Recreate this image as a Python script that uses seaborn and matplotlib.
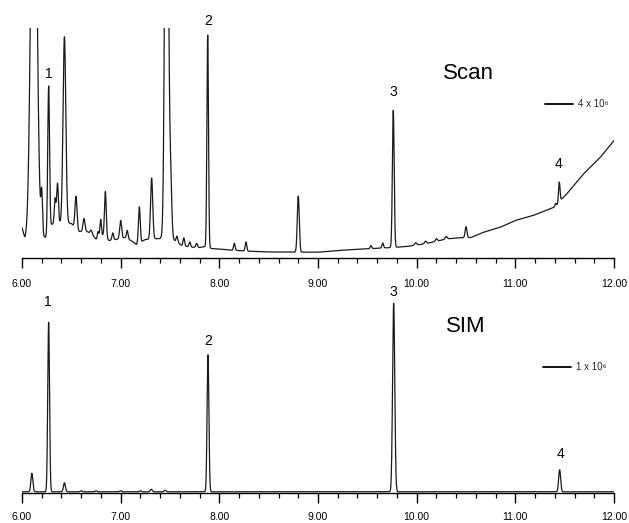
import numpy as np
import pandas as pd
import matplotlib
matplotlib.use("Agg")
import matplotlib.pyplot as plt
import seaborn as sns
from matplotlib.ticker import MultipleLocator, FormatStrFormatter
from matplotlib.lines import Line2D

# ---------------- data ----------------
# Scan trace: baseline points (time, abundance) and peaks (time, height above baseline, width)
scan_base_t = [6.00, 6.03, 6.08, 6.17, 6.24, 6.30, 6.40, 6.50, 6.58, 6.66, 6.72, 6.76,
               6.82, 6.88, 6.95, 7.05, 7.12, 7.16, 7.25, 7.40, 7.50, 7.56, 7.62, 7.70,
               7.80, 7.86, 7.92, 8.00, 8.10, 8.30, 8.50, 9.00, 9.20, 9.50, 9.75, 9.90,
               10.10, 10.30, 10.42, 10.55, 10.67, 10.84, 11.00, 11.18, 11.35, 11.43,
               11.47, 11.52, 11.69, 11.86, 12.00]
scan_base_h = [30, 18, 20, 22, 20, 33, 35, 34, 26, 26, 22, 17,
               22, 17, 18, 20, 16, 13, 18, 19, 20, 16, 12, 10.5,
               10, 11, 9, 8.5, 7.5, 6.3, 5.5, 5.3, 7, 8.7, 10, 11,
               14, 18.5, 19.7, 20, 25, 30, 37, 42, 48.5, 52,
               58.5, 63.5, 83.5, 100, 117]
scan_peak_t = [6.12, 6.20, 6.27, 6.335, 6.36, 6.43, 6.547, 6.628, 6.70, 6.77, 6.797,
               6.845, 6.92, 7.00, 7.067, 7.189, 7.314, 7.465, 7.505, 7.57, 7.64, 7.70,
               7.77, 7.882, 8.152, 8.27, 8.80, 9.537, 9.656, 9.763, 9.99, 10.09, 10.20,
               10.30, 10.50, 11.41, 11.445]
scan_peak_h = [500, 40, 145, 25, 40, 186, 32, 13, 4, 8, 18,
               46, 7, 18, 8, 36, 61, 600, 60, 6, 8, 5,
               4, 212, 7, 9, 56, 3, 5, 137, 2.5, 2.5, 2.5,
               2.5, 11, 3, 21]
scan_peak_w = [0.028, 0.008, 0.009, 0.008, 0.009, 0.014, 0.010, 0.010, 0.010, 0.008, 0.008,
               0.009, 0.008, 0.010, 0.008, 0.009, 0.011, 0.016, 0.012, 0.008, 0.008, 0.008,
               0.008, 0.008, 0.008, 0.008, 0.010, 0.008, 0.008, 0.009, 0.010, 0.010, 0.010,
               0.010, 0.009, 0.008, 0.008]

# SIM trace
sim_base_t = [6.00, 12.00]
sim_base_h = [1.2, 1.2]
sim_peak_t = [6.10, 6.27, 6.43, 6.60, 6.75, 7.00, 7.20, 7.31, 7.45, 7.885, 9.767, 11.449]
sim_peak_h = [18.5, 169.5, 9, 1, 1, 1, 1, 2.5, 1.5, 137, 188.5, 22]
sim_peak_w = [0.010, 0.009, 0.010, 0.010, 0.010, 0.010, 0.010, 0.010, 0.010, 0.009, 0.011, 0.010]

# peak number labels (text, time, abundance)
scan_labels = ["1", "2", "3", "4"]
scan_label_t = [6.27, 7.885, 9.76, 11.44]
scan_label_h = [184, 237, 166, 94]
sim_labels = ["1", "2", "3", "4"]
sim_label_t = [6.265, 7.885, 9.76, 11.46]
sim_label_h = [191, 152, 201, 39]

x_ticks = [6, 7, 8, 9, 10, 11, 12]


def build_trace(t, bt, bh, pt, ph, pw):
    y = np.interp(t, bt, bh)
    for c, h, w in zip(pt, ph, pw):
        y = y + h * np.exp(-0.5 * ((t - c) / w) ** 2)
    return y


t = np.linspace(6.0, 12.0, 6001)
scan_df = pd.DataFrame({"time": t, "abundance": build_trace(t, scan_base_t, scan_base_h,
                                                               scan_peak_t, scan_peak_h, scan_peak_w)})
sim_df = pd.DataFrame({"time": t, "abundance": build_trace(t, sim_base_t, sim_base_h,
                                                              sim_peak_t, sim_peak_h, sim_peak_w)})

# ---------------- style ----------------
sns.set_style("white")
plt.rcParams["font.family"] = ["Liberation Sans", "DejaVu Sans"]

W, H = 629, 523
fig = plt.figure(figsize=(W / 100, H / 100), dpi=100)

left = 22 / W
width = (614 - 22) / W
ax1 = fig.add_axes([left, 1 - 257.5 / H, width, (257.5 - 28) / H])
ax2 = fig.add_axes([left, 1 - 493 / H, width, (493 - 293) / H])

line_color = "#1a1a1a"
for ax, df, ymax, pad in [(ax1, scan_df, 229.5, 8.5), (ax2, sim_df, 200, 6.8)]:
    sns.lineplot(data=df, x="time", y="abundance", ax=ax, color=line_color,
                 linewidth=0.9, estimator=None, sort=False)
    ax.set_xlim(6.0, 12.0)
    ax.set_ylim(0, ymax)
    ax.set_xlabel("")
    ax.set_ylabel("")
    ax.set_yticks([])
    for s in ["left", "right", "top"]:
        ax.spines[s].set_visible(False)
    ax.spines["bottom"].set_color("black")
    ax.spines["bottom"].set_linewidth(1.0)
    ax.set_xticks(x_ticks)
    ax.xaxis.set_major_formatter(FormatStrFormatter("%.2f"))
    ax.xaxis.set_minor_locator(MultipleLocator(0.2))
    ax.tick_params(axis="x", which="major", direction="out", length=7.2, width=1.0,
                   color="black", pad=pad, labelsize=7.5, labelcolor="black", bottom=True)
    ax.tick_params(axis="x", which="minor", direction="out", length=3.8, width=0.9,
                   color="black", bottom=True)
    ax.patch.set_alpha(0)

for lab, lt, lh in zip(scan_labels, scan_label_t, scan_label_h):
    ax1.text(lt, lh, lab, ha="center", va="center", fontsize=10, color="black")
for lab, lt, lh in zip(sim_labels, sim_label_t, sim_label_h):
    ax2.text(lt, lh, lab, ha="center", va="center", fontsize=10, color="black")

ax1.text(10.52, 184, "Scan", ha="center", va="center", fontsize=16, color="black")
ax2.text(10.50, 166, "SIM", ha="center", va="center", fontsize=16, color="black")

# scale-bar legends
bar = [Line2D([0], [0], color="black", lw=1.3)]
ax1.legend(bar, ["4 x 10⁶"], loc="center left", bbox_to_anchor=(0.8834, 0.668),
           frameon=False, fontsize=7, handlelength=2.9, handletextpad=0.45,
           borderpad=0, borderaxespad=0)
ax2.legend(bar, ["1 x 10⁶"], loc="center left", bbox_to_anchor=(0.880, 0.63),
           frameon=False, fontsize=7, handlelength=2.9, handletextpad=0.45,
           borderpad=0, borderaxespad=0)

fig.savefig("out.png", dpi=100)
